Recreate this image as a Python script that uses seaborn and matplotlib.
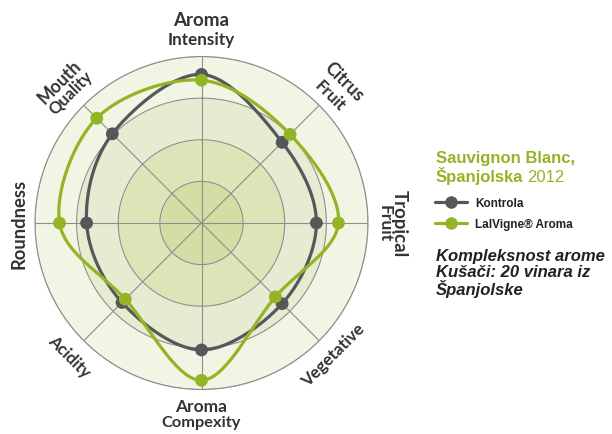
import numpy as np
import matplotlib
matplotlib.use("Agg")
import matplotlib.pyplot as plt
import seaborn as sns
from matplotlib.lines import Line2D

sns.set_style("white")
plt.rcParams['font.family'] = ['Liberation Sans', 'DejaVu Sans']

# ---------------- data ----------------
categories = ["Aroma Intensity", "Citrus Fruit", "Tropical Fruit", "Vegetative",
              "Aroma Compexity", "Acidity", "Roundness", "Mouth Quality"]
kontrola = [3.57, 2.74, 2.76, 2.74, 3.05, 2.70, 2.76, 3.03]
lalvigne = [3.43, 3.01, 3.29, 2.51, 3.78, 2.59, 3.41, 3.56]
series_names = ["Kontrola", "LalVigne\u00ae Aroma"]
ring_levels = [1, 2, 3, 4]

GRAY = "#55585b"
GREEN = "#93b425"
GRID = "#8e8e8e"
ring_colors = ["#d5dca4", "#dee4b7", "#e7ebd2", "#f2f5e4"]

n = len(categories)
angles = np.arange(n) * 2 * np.pi / n


def smooth_closed(theta, r, per=60):
    x = np.asarray(r) * np.sin(theta)
    y = np.asarray(r) * np.cos(theta)
    pts = np.c_[x, y]
    N = len(pts)
    out = []
    t = np.linspace(0, 1, per, endpoint=False)[:, None]
    for i in range(N):
        p0, p1, p2, p3 = pts[(i - 1) % N], pts[i], pts[(i + 1) % N], pts[(i + 2) % N]
        seg = 0.5 * ((2 * p1) + (-p0 + p2) * t + (2 * p0 - 5 * p1 + 4 * p2 - p3) * t ** 2
                     + (-p0 + 3 * p1 - 3 * p2 + p3) * t ** 3)
        out.append(seg)
    out.append(pts[:1])
    P = np.vstack(out)
    th = np.unwrap(np.arctan2(P[:, 0], P[:, 1]))
    rr = np.hypot(P[:, 0], P[:, 1])
    return th, rr


W, H = 612, 435
fig = plt.figure(figsize=(W / 100, H / 100), dpi=100)
cx, cy, R = 201.5, 224.0, 166.5
ax = fig.add_axes([(cx - R) / W, (H - cy - R) / H, 2 * R / W, 2 * R / H], projection="polar")
ax.set_theta_zero_location("N")
ax.set_theta_direction(-1)
ax.set_ylim(0, ring_levels[-1])
ax.grid(False)
ax.set_xticks([])
ax.set_yticks([])
ax.set_facecolor("none")
ax.spines["polar"].set_color(GRID)
ax.spines["polar"].set_linewidth(0.8)

full = np.linspace(0, 2 * np.pi, 361)
prev = 0
for lvl, col in zip(ring_levels, ring_colors):
    ax.fill_between(full, prev, lvl, color=col, lw=0, zorder=0)
    ax.plot(full, np.full_like(full, lvl), color=GRID, lw=0.8, zorder=1)
    prev = lvl
for a in angles:
    ax.plot([a, a], [0, ring_levels[-1]], color=GRID, lw=0.8, zorder=1)

for vals, col, z in [(kontrola, GRAY, 3), (lalvigne, GREEN, 5)]:
    th, rr = smooth_closed(angles, vals)
    sns.lineplot(x=th, y=rr, sort=False, estimator=None, ax=ax, color=col, lw=2.3, zorder=z)
    sns.scatterplot(x=angles, y=vals, ax=ax, color=col, s=85, edgecolor="none", zorder=z + 1)

# category labels (tangent rotated)
lab_font = ['Lato', 'DejaVu Sans']
label_spec = [
    [("Aroma", 4.88, 13.5), ("Intensity", 4.42, 12.3)],
    [("Citrus", 4.84, 12.8), ("Fruit", 4.36, 12.2)],
    [("Tropical", 4.75, 13.4), ("Fruit", 4.39, 12.5)],
    [("Vegetative", 4.47, 12.2)],
    [("Aroma", 4.39, 12.5), ("Compexity", 4.79, 11.8)],
    [("Acidity", 4.5, 12)],
    [("Roundness", 4.39, 13.2)],
    [("Mouth", 4.81, 12.7), ("Quality", 4.43, 12)],
]
rotations = [0, -45, -90, 45, 0, -45, 90, 45]
for a, spec, rot in zip(angles, label_spec, rotations):
    for word, rr, fs in spec:
        ax.text(a, rr, word, rotation=rot,
                ha="center", va="center", fontsize=fs, fontweight="bold",
                family=lab_font, color="#333333", clip_on=False)

# right-hand text
fig.text(436 / W, 1 - 163 / H, "Sauvignon Blanc,", color=GREEN, fontsize=12,
         fontweight="bold", ha="left", va="baseline")
t1 = fig.text(436 / W, 1 - 182 / H, "\u0160panjolska", color=GREEN, fontsize=12,
              fontweight="bold", ha="left", va="baseline")
fig.canvas.draw()
bb = t1.get_window_extent()
fig.text((bb.x1 + 4) / W, 1 - 182 / H, "2012", color=GREEN, fontsize=12,
         ha="left", va="baseline")

handles = [Line2D([], [], color=GRAY, lw=2.3, marker="o", markersize=9, markeredgewidth=0),
           Line2D([], [], color=GREEN, lw=2.3, marker="o", markersize=9, markeredgewidth=0)]
leg = fig.legend(handles, series_names, loc="upper left",
                 bbox_to_anchor=(435 / W, 1 - 198 / H), frameon=False,
                 borderpad=0, borderaxespad=0, handlelength=2.7, handletextpad=0.7,
                 labelspacing=0.75, prop={"size": 8.5, "weight": "bold"})
for txt in leg.get_texts():
    txt.set_color("#222222")

for i, line in enumerate(["Kompleksnost arome", "Ku\u0161a\u010di: 20 vinara iz", "\u0160panjolske"]):
    fig.text(436 / W, 1 - (256 + 16.5 * i) / H, line, fontsize=12, fontweight="bold",
             style="italic", color="#222222", ha="left", va="center")

fig.savefig("out.png", dpi=100)
